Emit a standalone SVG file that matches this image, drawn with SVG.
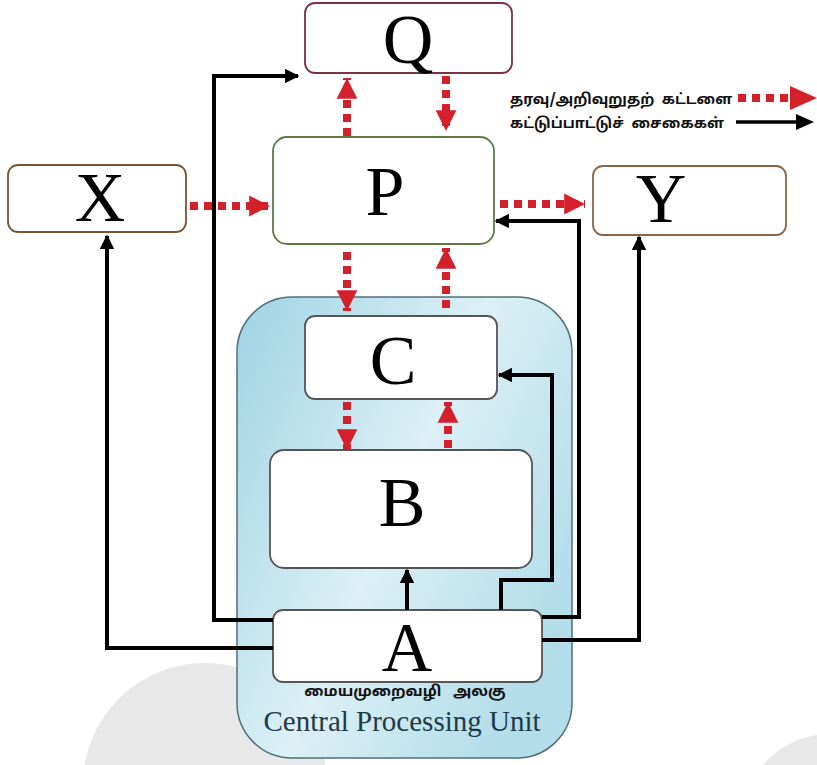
<svg xmlns="http://www.w3.org/2000/svg" width="817" height="765" viewBox="0 0 817 765">
<style>
.box{fill:#fff;stroke-width:1.8}
.lt{font-family:"Liberation Serif","Times New Roman",serif;font-size:70px;fill:#000;text-anchor:middle}
.ta{font-family:"Noto Sans Tamil","Noto Sans","Liberation Sans",sans-serif;font-weight:bold;fill:#111;white-space:pre}
.ctl{fill:none;stroke:#000;stroke-width:4}
.dat{fill:none;stroke:#d3202b;stroke-width:8;stroke-dasharray:8 6}
</style>
<defs>
<linearGradient id="cpuG" x1="0" y1="0" x2="1" y2="0.6">
<stop offset="0" stop-color="#9fd3e3"/>
<stop offset="0.55" stop-color="#dcf0f6"/>
<stop offset="1" stop-color="#b3dde9"/>
</linearGradient>
<marker id="ah" viewBox="0 0 10 10" refX="9" refY="5" markerWidth="4" markerHeight="3.6" orient="auto" markerUnits="strokeWidth">
<path d="M0,0 L10,5 L0,10 z" fill="#000"/>
</marker>
<marker id="rh" viewBox="0 0 10 10" refX="10" refY="5" markerWidth="2.6" markerHeight="2.8" orient="auto" markerUnits="strokeWidth">
<path d="M0,0 L10,5 L0,10 z" fill="#d3202b"/>
</marker>
</defs>
<rect width="817" height="765" fill="#fff"/>
<g id="watermark">
<circle cx="205" cy="785" r="122" fill="#e8e8e8"/>
<circle cx="830" cy="822" r="88" fill="#e8e8e8"/>
</g>
<g id="cpu">
<rect x="237" y="297" width="335" height="461" rx="55" fill="url(#cpuG)" stroke="#4f6f7a" stroke-width="1.5"/>
<text class="ta" x="405" y="696" font-size="15" text-anchor="middle" xml:space="preserve">மையமுறைவழி   அலகு</text>
<text x="402" y="731" font-family="Liberation Serif,serif" font-size="29" fill="#1e3a46" text-anchor="middle">Central Processing Unit</text>
</g>
<g id="Q"><rect class="box" x="305" y="3" width="207" height="70" rx="10" stroke="#7a3343"/><text class="lt" x="408" y="63">Q</text></g>
<g id="P"><rect class="box" x="273" y="137" width="221" height="107" rx="14" stroke="#5d7a45"/><text class="lt" x="385" y="215">P</text></g>
<g id="X"><rect class="box" x="8" y="165" width="178" height="67" rx="10" stroke="#7a5535"/><text class="lt" x="100" y="221">X</text></g>
<g id="Y"><rect class="box" x="593" y="166" width="193" height="69" rx="10" stroke="#8a6545"/><text class="lt" x="661" y="222">Y</text></g>
<g id="C"><rect class="box" x="305" y="316" width="192" height="83" rx="10" stroke="#555"/><text class="lt" x="393" y="384">C</text></g>
<g id="B"><rect class="box" x="270" y="450" width="262" height="118" rx="14" stroke="#555"/><text class="lt" x="402" y="526">B</text></g>
<g id="A"><rect class="box" x="273" y="610" width="269" height="72" rx="10" stroke="#555"/><text class="lt" x="407" y="671">A</text></g>
<g id="connectors">
<path class="ctl" d="M273,620 H214 V76 H298" marker-end="url(#ah)"/>
<path class="ctl" d="M273,648 H107 V236" marker-end="url(#ah)"/>
<path class="ctl" d="M407,610 V570" marker-end="url(#ah)"/>
<path class="ctl" d="M501,610 V580 H552 V375 H499" marker-end="url(#ah)"/>
<path class="ctl" d="M542,617 H579 V221 H496" marker-end="url(#ah)"/>
<path class="ctl" d="M542,640 H639 V237" marker-end="url(#ah)"/>
<path class="dat" d="M347,136 V78" marker-end="url(#rh)"/>
<path class="dat" d="M446,76 V131" marker-end="url(#rh)"/>
<path class="dat" d="M190,206 H270" marker-end="url(#rh)"/>
<path class="dat" d="M500,204 H585" marker-end="url(#rh)"/>
<path class="dat" d="M347,252 V311" marker-end="url(#rh)"/>
<path class="dat" d="M446,308 V248" marker-end="url(#rh)"/>
<path class="dat" d="M347,402 V450" marker-end="url(#rh)"/>
<path class="dat" d="M448,448 V402" marker-end="url(#rh)"/>
</g>
<g id="legend">
<text class="ta" x="510" y="104" font-size="14.5" xml:space="preserve">தரவு/அறிவுறுதற்  கட்டளை</text>
<text class="ta" x="510" y="128" font-size="14.5" xml:space="preserve">கட்டுப்பாட்டுச்  சைகைகள்</text>
<path class="dat" d="M738,98 H790" stroke-width="7"/>
<path d="M790,86 L817,98 L790,110 z" fill="#d3202b"/>
<path d="M736,122 H800" stroke="#000" stroke-width="3.5"/>
<path d="M796,114 L814,122 L796,130 z" fill="#000"/>
</g>
</svg>
